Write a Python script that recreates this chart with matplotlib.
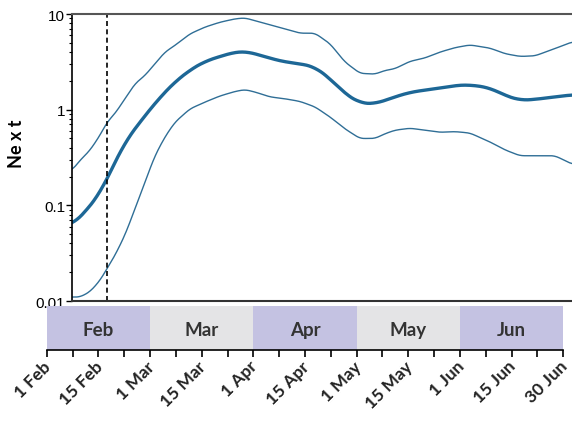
import numpy as np
import matplotlib
matplotlib.use('Agg')
import matplotlib.pyplot as plt
import matplotlib.transforms as mtrans

# time axis in months since 1 Feb (each month drawn with the same width)
t_month = [0.245, 0.322, 0.419, 0.516, 0.584, 0.661, 0.758, 0.855, 0.952, 1.048,
           1.145, 1.242, 1.387, 1.532, 1.677, 1.823, 1.920, 2.016, 2.161, 2.306,
           2.452, 2.597, 2.742, 2.887, 3.032, 3.178, 3.274, 3.371, 3.516, 3.661,
           3.807, 3.952, 4.097, 4.291, 4.436, 4.581, 4.726, 4.920, 5.085]

ne_mid = [0.062, 0.075, 0.098, 0.134, 0.19, 0.28, 0.46, 0.63, 0.87, 1.16,
          1.53, 1.95, 2.6, 3.2, 3.6, 4.0, 4.07, 3.85, 3.45, 3.15,
          3.02, 2.8, 2.11, 1.47, 1.17, 1.15, 1.25, 1.36, 1.52, 1.6,
          1.68, 1.79, 1.82, 1.69, 1.41, 1.25, 1.28, 1.36, 1.43]

ne_upper = [0.232, 0.295, 0.376, 0.54, 0.74, 0.91, 1.30, 1.87, 2.28, 3.02,
            4.0, 4.7, 6.2, 7.3, 8.2, 8.9, 9.1, 8.5, 7.7, 7.0,
            6.3, 6.3, 4.9, 3.15, 2.4, 2.35, 2.57, 2.68, 3.2, 3.47,
            4.0, 4.45, 4.75, 4.4, 3.85, 3.6, 3.65, 4.35, 5.1]

ne_lower = [0.011, 0.011, 0.0125, 0.0164, 0.0218, 0.030, 0.049, 0.092, 0.176, 0.33,
            0.52, 0.74, 1.02, 1.2, 1.39, 1.55, 1.62, 1.53, 1.36, 1.30,
            1.22, 1.07, 0.84, 0.63, 0.50, 0.50, 0.56, 0.61, 0.64, 0.61,
            0.58, 0.59, 0.57, 0.46, 0.38, 0.33, 0.33, 0.33, 0.27]

marker_t = 0.587   # dashed line, ~18 Feb

months = ['Feb', 'Mar', 'Apr', 'May', 'Jun']
month_colors = ['#c4c2e2', '#e4e4e6', '#c4c2e2', '#e4e4e6', '#c4c2e2']
date_labels = ['1 Feb', '15 Feb', '1 Mar', '15 Mar', '1 Apr', '15 Apr',
               '1 May', '15 May', '1 Jun', '15 Jun', '30 Jun']

line_col = '#1d6796'
thin_col = '#2f6e96'


def smooth(x, y, n=600, k=15):
    xf = np.linspace(x[0], x[-1], n)
    ly = np.interp(xf, x, np.log10(y))
    pad = np.pad(ly, k // 2, mode='edge')
    ly = np.convolve(pad, np.ones(k) / k, mode='valid')
    return xf, 10 ** ly


fig = plt.figure(figsize=(5.72, 4.31), dpi=100)

# main panel
ax = fig.add_axes([72 / 572, 129 / 431, 500 / 572, 287 / 431])
for vals, lw, c, k in [(ne_upper, 1.0, thin_col, 11), (ne_lower, 1.0, thin_col, 11),
                       (ne_mid, 2.4, line_col, 25)]:
    xs, ys = smooth(np.array(t_month), np.array(vals), k=k)
    ax.plot(xs, ys, color=c, lw=lw)
ax.axvline(marker_t, color='black', ls=(0, (3, 2)), lw=1.2)

ax.set_yscale('log')
ax.set_ylim(0.01, 10)
ax.set_xlim(0.245, 5.085)
ax.set_yticks([0.01, 0.1, 1, 10])
ax.set_yticklabels(['0.01', '0.1', '1', '10'], family='Liberation Sans', fontsize=11)
ax.tick_params(axis='y', which='major', length=4, width=1, pad=1)
ax.tick_params(axis='y', which='minor', length=2, width=0.8)
ax.set_xticks([])
ax.spines['right'].set_visible(False)
ax.spines['top'].set_color('#555555')
ax.spines['top'].set_linewidth(1.5)
ax.spines['left'].set_linewidth(1.2)
ax.spines['bottom'].set_linewidth(1.5)
ax.spines['bottom'].set_color('#333333')
ax.set_ylabel('Ne x t', fontsize=13, fontweight='bold', family='Lato')
ax.yaxis.set_label_coords(-0.094, 0.55)

# month band with date axis
bx = fig.add_axes([46.7 / 572, 80 / 431, 516.6 / 572, 43.7 / 431])
for i, (m, c) in enumerate(zip(months, month_colors)):
    bx.axvspan(i, i + 1, color=c, lw=0)
    bx.text(i + 0.5, 0.47, m, ha='center', va='center', fontsize=13.5,
            fontweight='bold', family='Lato', color='#333333')
bx.set_xlim(0, 5)
bx.set_ylim(0, 1)
bx.set_yticks([])
for s in ['top', 'left', 'right']:
    bx.spines[s].set_visible(False)
bx.spines['bottom'].set_linewidth(1.2)
bx.set_xticks(np.arange(0, 5.01, 0.5))
bx.set_xticks(np.arange(0, 5.01, 0.25), minor=True)
bx.set_xticklabels(date_labels, rotation=45, ha='right', rotation_mode='anchor',
                   fontsize=12.5, fontweight='bold', family='Lato', color='#222222')
bx.tick_params(axis='x', which='both', length=5, width=1.2, pad=2)
shift = mtrans.ScaledTranslation(-4 / 100, 2 / 100, fig.dpi_scale_trans)
for lab in bx.get_xticklabels():
    lab.set_transform(lab.get_transform() + shift)

fig.savefig('out.png', dpi=100)
